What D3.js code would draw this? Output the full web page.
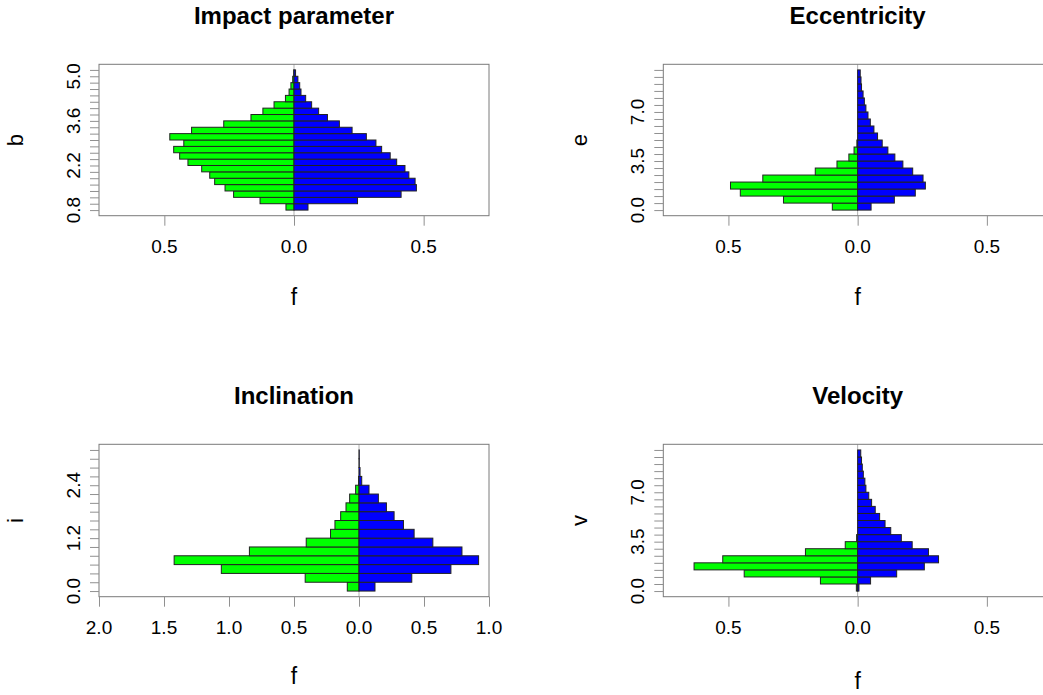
<!DOCTYPE html>
<html>
<head>
<meta charset="utf-8">
<script src="https://cdn.jsdelivr.net/npm/d3@7/dist/d3.min.js"></script>
<style>
  body { margin: 0; background: #fff; }
  text { font-family: "Liberation Sans", Arial, Helvetica, sans-serif; fill: #000; }
</style>
</head>
<body>
<div id="chart"></div>
<script>
// bin edges on the vertical axis, and frequency f for each bin (bottom to top)
let impactEdges = [0.8, 1.0, 1.2, 1.4, 1.6, 1.8, 2.0, 2.2, 2.4, 2.6, 2.8, 3.0, 3.2, 3.4, 3.6, 3.8, 4.0, 4.2, 4.4, 4.6, 4.8, 5.0, 5.2];
let impactGreen = [0.031, 0.131, 0.233, 0.266, 0.306, 0.325, 0.356, 0.409, 0.441, 0.464, 0.425, 0.479, 0.395, 0.271, 0.166, 0.120, 0.077, 0.033, 0.019, 0.012, 0.005, 0.001];
let impactBlue = [0.054, 0.245, 0.413, 0.472, 0.467, 0.443, 0.428, 0.396, 0.371, 0.338, 0.316, 0.279, 0.224, 0.175, 0.129, 0.095, 0.068, 0.045, 0.027, 0.022, 0.015, 0.006];
let impactLabels = [0.8, 2.2, 3.6, 5.0];

let eccEdges = [0, 0.5, 1.0, 1.5, 2.0, 2.5, 3.0, 3.5, 4.0, 4.5, 5.0, 5.5, 6.0, 6.5, 7.0, 7.5, 8.0, 8.5, 9.0, 9.5, 10.0];
let eccGreen = [0.098, 0.287, 0.454, 0.492, 0.367, 0.164, 0.080, 0.034, 0.014, 0.003, 0, 0, 0, 0, 0, 0, 0, 0, 0, 0];
let eccBlue = [0.052, 0.142, 0.223, 0.262, 0.253, 0.213, 0.175, 0.144, 0.117, 0.095, 0.077, 0.063, 0.049, 0.040, 0.032, 0.026, 0.021, 0.015, 0.013, 0.010];
let eccLabels = [0.0, 3.5, 7.0];

let inclEdges = [0, 0.2, 0.4, 0.6, 0.8, 1.0, 1.2, 1.4, 1.6, 1.8, 2.0, 2.2, 2.4, 2.6, 2.8, 3.0, 3.2];
let inclGreen = [0.090, 0.414, 1.059, 1.422, 0.843, 0.406, 0.219, 0.185, 0.141, 0.100, 0.072, 0.026, 0.003, 0, 0, 0];
let inclBlue = [0.123, 0.406, 0.707, 0.920, 0.792, 0.568, 0.424, 0.342, 0.270, 0.211, 0.149, 0.077, 0.021, 0.008, 0.002, 0.002];
let inclLabels = [0.0, 1.2, 2.4];

let velEdges = [0, 0.5, 1.0, 1.5, 2.0, 2.5, 3.0, 3.5, 4.0, 4.5, 5.0, 5.5, 6.0, 6.5, 7.0, 7.5, 8.0, 8.5, 9.0, 9.5, 10.0];
let velGreen = [0.005, 0.144, 0.439, 0.633, 0.522, 0.202, 0.048, 0.004, 0, 0, 0, 0, 0, 0, 0, 0, 0, 0, 0, 0];
let velBlue = [0.005, 0.050, 0.151, 0.258, 0.313, 0.274, 0.211, 0.169, 0.128, 0.106, 0.085, 0.068, 0.054, 0.043, 0.032, 0.028, 0.022, 0.018, 0.015, 0.012];
let velLabels = [0.0, 3.5, 7.0];

let fTicks = [-0.5, 0, 0.5];
let inclFTicks = [-2.0, -1.5, -1.0, -0.5, 0, 0.5, 1.0];

let panels = [
    {title: "Impact parameter", ylab: "b", edges: impactEdges, green: impactGreen, blue: impactBlue,
     labels: impactLabels, xticks: fTicks, xdom: [-0.752, 0.752],
     left: 99, right: 489, top: 64.3, bottom: 215.7, fdy: 89},
    {title: "Eccentricity", ylab: "e", edges: eccEdges, green: eccGreen, blue: eccBlue,
     labels: eccLabels, xticks: fTicks, xdom: [-0.752, 0.752],
     left: 663.3, right: 1052, top: 64.3, bottom: 215.7, fdy: 89},
    {title: "Inclination", ylab: "i", edges: inclEdges, green: inclGreen, blue: inclBlue,
     labels: inclLabels, xticks: inclFTicks, xdom: [-2, 1],
     left: 99, right: 489, top: 444.3, bottom: 596.7, fdy: 87},
    {title: "Velocity", ylab: "v", edges: velEdges, green: velGreen, blue: velBlue,
     labels: velLabels, xticks: fTicks, xdom: [-0.752, 0.752],
     left: 663.3, right: 1052, top: 444.3, bottom: 596.7, fdy: 92}
];

let svg = d3.select("#chart")
    .append("svg")
        .attr("width", 1043)
        .attr("height", 695);

let fmt = d3.format(".1f");

function drawPanel(p) {
    let g = svg.append("g");

    let x = d3.scaleLinear().domain(p.xdom).range([p.left, p.right]);
    let lo = p.edges[0], hi = p.edges[p.edges.length - 1];
    let pad = (hi - lo) * 0.04; // R style 4% extension
    let y = d3.scaleLinear().domain([lo - pad, hi + pad]).range([p.bottom, p.top]);

    // zero line
    g.append("line")
        .attr("x1", x(0)).attr("x2", x(0))
        .attr("y1", p.top).attr("y2", p.bottom)
        .attr("stroke", "#b0b0b0")
        .attr("stroke-width", 1);

    let bins = p.edges.slice(0, -1).map((e, i) => ({
        y0: e, y1: p.edges[i + 1], green: p.green[i], blue: p.blue[i]
    }));

    g.selectAll(".gbar")
        .data(bins.filter(d => d.green > 0))
        .enter()
        .append("rect")
            .attr("x", d => x(-d.green))
            .attr("y", d => y(d.y1))
            .attr("width", d => x(0) - x(-d.green))
            .attr("height", d => y(d.y0) - y(d.y1))
            .style("fill", "#00ff00")
            .style("stroke", "#222")
            .style("stroke-width", 1);

    g.selectAll(".bbar")
        .data(bins.filter(d => d.blue > 0))
        .enter()
        .append("rect")
            .attr("x", x(0))
            .attr("y", d => y(d.y1))
            .attr("width", d => x(d.blue) - x(0))
            .attr("height", d => y(d.y0) - y(d.y1))
            .style("fill", "#0000ff")
            .style("stroke", "#222")
            .style("stroke-width", 1);

    // box
    g.append("rect")
        .attr("x", p.left).attr("y", p.top)
        .attr("width", p.right - p.left).attr("height", p.bottom - p.top)
        .style("fill", "none")
        .style("stroke", "#7a7a7a")
        .style("stroke-width", 1);

    // y axis: ticks at every bin edge, labels only at some
    let yAxis = g.append("g").attr("transform", "translate(" + p.left + ",0)");
    yAxis.call(d3.axisLeft(y).tickValues(p.edges).tickSize(9).tickFormat(""))
        .select(".domain").remove();
    yAxis.selectAll("line").attr("stroke", "#909090");

    g.selectAll(".ylab")
        .data(p.labels)
        .enter()
        .append("text")
            .attr("transform", d => "translate(" + (p.left - 19) + "," + y(d) + ") rotate(-90)")
            .attr("text-anchor", "middle")
            .style("font-size", "19px")
            .text(d => fmt(d));

    // x axis, absolute values of f
    let xAxis = g.append("g").attr("transform", "translate(0," + p.bottom + ")");
    xAxis.call(d3.axisBottom(x).tickValues(p.xticks).tickSize(10).tickFormat(""))
        .select(".domain").remove();
    xAxis.selectAll("line").attr("stroke", "#909090");

    g.selectAll(".xlab")
        .data(p.xticks)
        .enter()
        .append("text")
            .attr("x", d => x(d))
            .attr("y", p.bottom + 37)
            .attr("text-anchor", "middle")
            .style("font-size", "19px")
            .text(d => fmt(Math.abs(d)));

    let cx = (p.left + p.right) / 2;

    g.append("text")
        .attr("x", cx)
        .attr("y", p.top - 40)
        .attr("text-anchor", "middle")
        .style("font-size", "24px")
        .style("font-weight", "bold")
        .text(p.title);

    g.append("text")
        .attr("x", cx)
        .attr("y", p.bottom + p.fdy)
        .attr("text-anchor", "middle")
        .style("font-size", "23px")
        .text("f");

    g.append("text")
        .attr("transform", "translate(" + (p.left - 76) + "," + ((p.top + p.bottom) / 2) + ") rotate(-90)")
        .attr("text-anchor", "middle")
        .style("font-size", "22px")
        .text(p.ylab);
}

panels.forEach(drawPanel);
</script>
</body>
</html>
